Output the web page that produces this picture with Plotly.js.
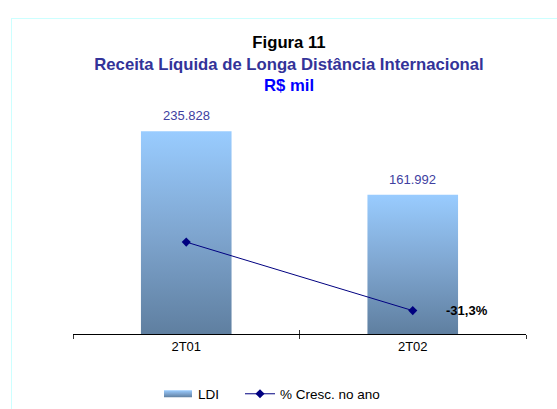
<!DOCTYPE html>
<html>
<head>
<meta charset="utf-8">
<script src="https://cdn.plot.ly/plotly-3.0.1.min.js"></script>
<style>
  html, body { margin: 0; padding: 0; overflow: hidden; background: #fff; }
  #chart { width: 557px; height: 409px; position: relative; }
  #frame { position: absolute; left: 11px; top: 18px; width: 600px; height: 500px;
           border: 1px solid #ccffff; pointer-events: none; }
</style>
</head>
<body>
<div id="chart"></div>
<div id="frame"></div>
<script>
// ---- data ----
const categories = ["2T01", "2T02"];
const ldiValues = [235828, 161992];          // R$ mil
const growthPct = [-5.8, -31.3];             // % Cresc. no ano
const growthLabelIndex = [1];                // only the last point is labelled
const seriesNames = ["LDI", "% Cresc. no ano"];
const titleLines = ["Figura 11", "Receita Líquida de Longa Distância Internacional", "R$ mil"];

function fmtThousands(v) {
  return String(Math.round(v)).replace(/\B(?=(\d{3})+(?!\d))/g, ".");
}
function fmtPct(v) {
  return v.toFixed(1).replace(".", ",") + "%";
}

const FONT = "Liberation Sans, Arial, sans-serif";

const barTrace = {
  type: "bar",
  name: seriesNames[0],
  x: categories,
  y: ldiValues,
  marker: { color: "#7fa6cf", line: { width: 0 } },
  legendwidth: 37,
  hoverinfo: "none"
};
const lineTrace = {
  type: "scatter",
  mode: "lines+markers",
  name: seriesNames[1],
  x: categories,
  y: growthPct,
  yaxis: "y2",
  line: { color: "#000080", width: 1 },
  marker: { symbol: "diamond", size: 7, color: "#000080" },
  hoverinfo: "none"
};

const annotations = [];
categories.forEach((c, i) => {
  annotations.push({
    x: c, y: ldiValues[i], xref: "x", yref: "y",
    text: fmtThousands(ldiValues[i]),
    showarrow: false, yanchor: "middle", yshift: 15.5,
    font: { family: FONT, size: 13, color: "#40409f" }
  });
});
growthLabelIndex.forEach(i => {
  annotations.push({
    x: categories[i], y: growthPct[i], xref: "x", yref: "y2",
    text: "<b>" + fmtPct(growthPct[i]) + "</b>",
    showarrow: false, xanchor: "left", yanchor: "middle", xshift: 31,
    font: { family: FONT, size: 13, color: "#000" }
  });
});

const layout = {
  width: 557, height: 409,
  margin: { l: 73, r: 31, t: 119, b: 75, pad: 0, autoexpand: false },
  paper_bgcolor: "rgba(0,0,0,0)",
  plot_bgcolor: "rgba(0,0,0,0)",
  font: { family: FONT, size: 13, color: "#000" },
  showlegend: true,
  bargap: 0.6,
  title: {
    text: "<b>" + titleLines[0] + "<br><span style='color:#333399'>" + titleLines[1] +
          "</span><br><span style='color:#0000ff'>" + titleLines[2] + "</span></b>",
    x: 289 / 557, xref: "container", xanchor: "center",
    y: 1 - 48 / 409, yref: "container", yanchor: "top",
    font: { family: FONT, size: 16.7, color: "#000" }
  },
  xaxis: {
    type: "category",
    categoryarray: categories,
    range: [-0.5, 1.5],
    showline: true, linecolor: "#000", linewidth: 1,
    ticks: "outside", tickson: "boundaries", ticklen: 4, tickcolor: "#333", tickwidth: 1,
    showgrid: false, zeroline: false,
    tickfont: { family: FONT, size: 13, color: "#000" },
    fixedrange: true
  },
  xaxis2: {
    overlaying: "x", type: "linear", range: [-0.5, 1.5],
    tickvals: [-0.5, 0.5, 1.5], ticks: "inside", ticklen: 4, tickcolor: "#333",
    showticklabels: false, showgrid: false, zeroline: false, showline: false,
    anchor: "y", side: "bottom"
  },
  yaxis: {
    range: [0, 250000], visible: false, showgrid: false, zeroline: false, fixedrange: true
  },
  yaxis2: {
    range: [-40, 40], overlaying: "y", side: "right", visible: false,
    showgrid: false, zeroline: false, fixedrange: true
  },
  legend: {
    orientation: "h",
    x: (158 - 73) / 453, xanchor: "left",
    y: (334 - 394) / 215, yanchor: "middle",
    font: { family: FONT, size: 13.5, color: "#000" },
    bgcolor: "rgba(0,0,0,0)",
    traceorder: "normal"
  },
  annotations: annotations
};

// a dummy trace on x2 so the overlay axis draws its (inside) ticks
const tickTrace = {
  type: "scatter", x: [0], y: [0], xaxis: "x2", yaxis: "y",
  mode: "markers", marker: { opacity: 0 }, showlegend: false, hoverinfo: "none"
};

function applyGradient(gd) {
  const svg = gd.querySelector("svg.main-svg");
  if (!svg) return;
  let defs = svg.querySelector("defs");
  if (!defs) {
    defs = document.createElementNS("http://www.w3.org/2000/svg", "defs");
    svg.insertBefore(defs, svg.firstChild);
  }
  if (!defs.querySelector("#ldiGrad")) {
    const ns = "http://www.w3.org/2000/svg";
    const g = document.createElementNS(ns, "linearGradient");
    g.setAttribute("id", "ldiGrad");
    g.setAttribute("x1", "0"); g.setAttribute("y1", "0");
    g.setAttribute("x2", "0"); g.setAttribute("y2", "1");
    [["0", "#99ccff"], ["0.5", "#7fa6d0"], ["1", "#5f7fa0"]].forEach(([o, c]) => {
      const s = document.createElementNS(ns, "stop");
      s.setAttribute("offset", o); s.setAttribute("stop-color", c);
      g.appendChild(s);
    });
    defs.appendChild(g);
  }
  gd.querySelectorAll(".barlayer .point path").forEach(p => {
    p.style.fill = "url(#ldiGrad)";
  });
  gd.querySelectorAll(".legend .legendpoints path").forEach(p => {
    const d = p.getAttribute("d") || "";
    if (d.indexOf("M6,6") === 0) {
      p.setAttribute("d", "M14,3.5H-14V-3.5H14Z");
      p.style.fill = "url(#ldiGrad)";
      p.style.stroke = "none";
    }
  });
}

const gd = document.getElementById("chart");
Plotly.newPlot(gd, [barTrace, lineTrace, tickTrace], layout,
  { displayModeBar: false, staticPlot: true }).then(() => {
  applyGradient(gd);
  gd.on && gd.on("plotly_afterplot", () => applyGradient(gd));
});
</script>
</body>
</html>
